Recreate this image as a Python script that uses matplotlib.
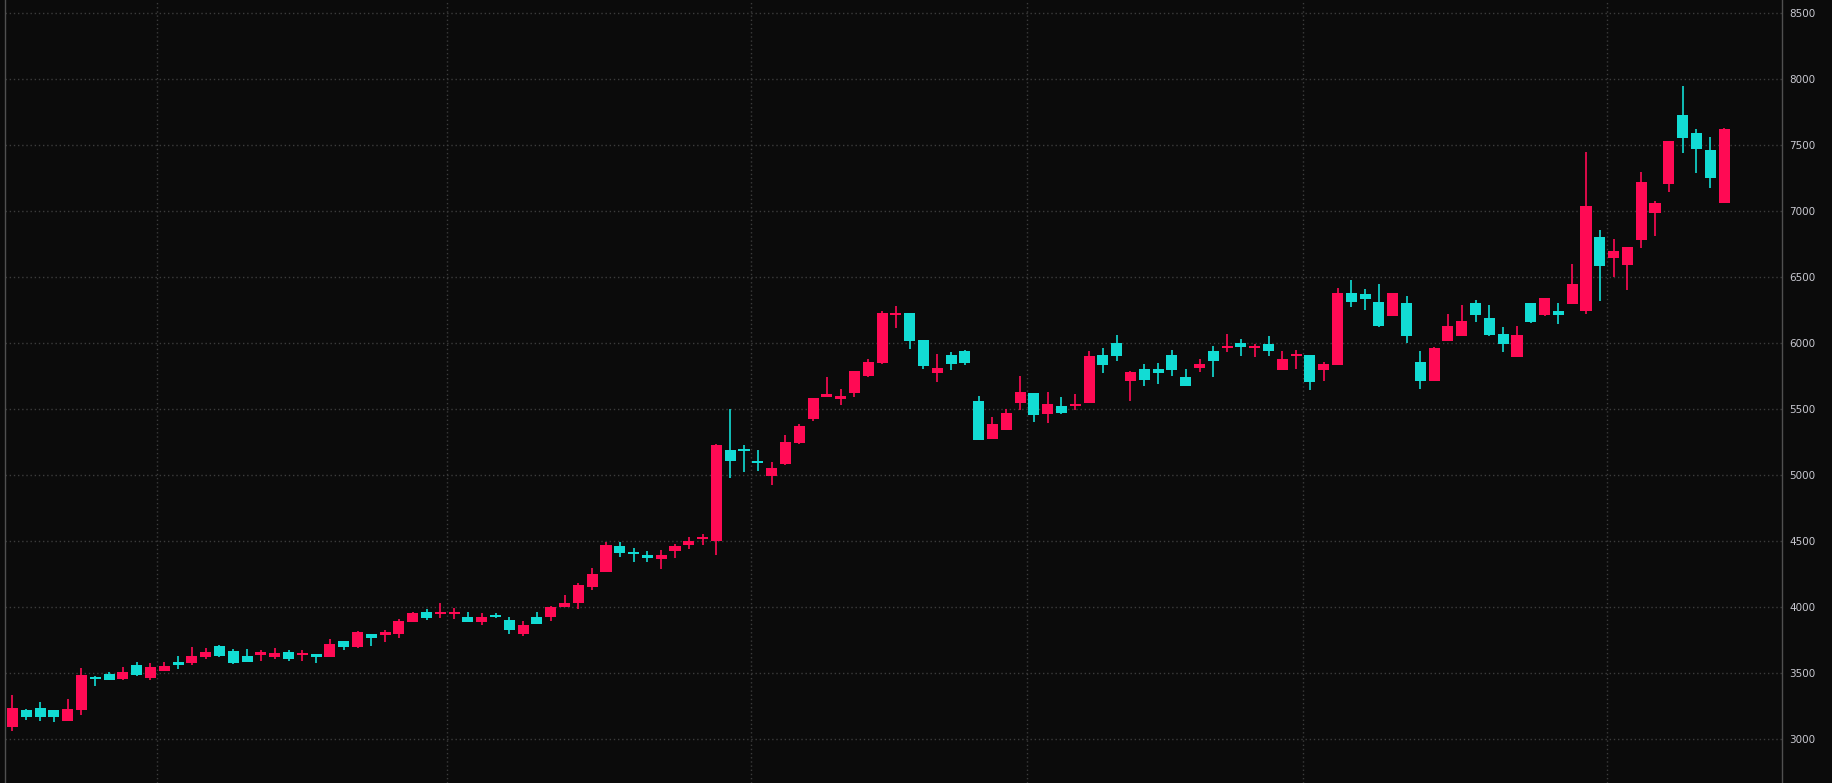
import numpy as np
import matplotlib
matplotlib.use("Agg")
import matplotlib.pyplot as plt

# daily OHLC
opens = [3096, 3222, 3237, 3222, 3141, 3225, 3472, 3495, 3460, 3563,
         3467, 3520, 3586, 3581, 3624, 3707, 3669, 3631, 3641, 3624,
         3662, 3639, 3646, 3624, 3745, 3700, 3798, 3790, 3798, 3889,
         3965, 3952, 3950, 3927, 3889, 3942, 3904, 3798, 3927, 3927,
         4003, 4033, 4154, 4268, 4465, 4419, 4397, 4366, 4427, 4472,
         4518, 4503, 5192, 5200, 5104, 4998, 5086, 5245, 5427, 5593,
         5578, 5624, 5753, 5851, 6215, 6230, 6025, 5775, 5912, 5942,
         5563, 5275, 5343, 5548, 5624, 5465, 5525, 5525, 5548, 5912,
         6003, 5715, 5806, 5806, 5912, 5745, 5813, 5942, 5965, 6003,
         5965, 5995, 5798, 5907, 5912, 5798, 5836, 6381, 6374, 6313,
         6210, 6306, 5859, 5717, 6020, 6058, 6306, 6192, 6071, 5899,
         6306, 6217, 6245, 6301, 6248, 6806, 6649, 6596, 6785, 6990,
         7210, 7730, 7593, 7465, 7066]
highs = [3336, 3232, 3283, 3222, 3306, 3540, 3480, 3510, 3548, 3586,
         3578, 3586, 3631, 3700, 3692, 3715, 3684, 3684, 3677, 3692,
         3677, 3677, 3646, 3760, 3745, 3821, 3798, 3828, 3912, 3965,
         3987, 4033, 3995, 3965, 3957, 3957, 3927, 3897, 3965, 4010,
         4094, 4184, 4298, 4495, 4495, 4450, 4427, 4434, 4480, 4533,
         4556, 5235, 5503, 5230, 5192, 5101, 5306, 5389, 5586, 5745,
         5654, 5790, 5881, 6245, 6283, 6230, 6025, 5919, 5934, 5949,
         5601, 5442, 5503, 5753, 5624, 5631, 5594, 5616, 5942, 5965,
         6063, 5790, 5844, 5851, 5950, 5806, 5881, 5980, 6071, 6033,
         5995, 6056, 5942, 5950, 5912, 5859, 6419, 6480, 6412, 6450,
         6385, 6359, 5942, 5972, 6222, 6291, 6328, 6291, 6124, 6131,
         6306, 6344, 6306, 6601, 7450, 6859, 6791, 6730, 7298, 7078,
         7533, 7950, 7624, 7563, 7631]
lows = [3063, 3149, 3141, 3134, 3141, 3187, 3407, 3452, 3452, 3482,
        3452, 3518, 3535, 3566, 3609, 3624, 3573, 3588, 3593, 3609,
        3596, 3593, 3578, 3624, 3677, 3692, 3707, 3738, 3770, 3889,
        3904, 3919, 3912, 3889, 3866, 3919, 3798, 3783, 3874, 3897,
        4003, 3987, 4131, 4268, 4381, 4343, 4343, 4290, 4374, 4442,
        4472, 4397, 4982, 5028, 5035, 4929, 5078, 5237, 5412, 5593,
        5533, 5593, 5745, 5843, 6116, 5957, 5806, 5707, 5798, 5836,
        5268, 5275, 5343, 5495, 5404, 5397, 5465, 5495, 5548, 5775,
        5866, 5563, 5677, 5692, 5753, 5677, 5783, 5745, 5934, 5904,
        5896, 5904, 5798, 5806, 5647, 5715, 5836, 6275, 6253, 6124,
        6205, 6005, 5657, 5717, 6020, 6058, 6164, 6058, 5937, 5899,
        6157, 6210, 6149, 6301, 6225, 6323, 6503, 6407, 6725, 6816,
        7149, 7445, 7293, 7179, 7066]
closes = [3237, 3172, 3172, 3172, 3230, 3487, 3460, 3452, 3510, 3490,
          3548, 3556, 3566, 3631, 3662, 3631, 3581, 3588, 3662, 3654,
          3609, 3646, 3624, 3722, 3700, 3813, 3770, 3813, 3897, 3957,
          3919, 3957, 3965, 3889, 3927, 3927, 3828, 3866, 3874, 4003,
          4033, 4169, 4253, 4472, 4412, 4404, 4374, 4397, 4465, 4503,
          4525, 5230, 5111, 5184, 5094, 5056, 5253, 5374, 5586, 5616,
          5601, 5790, 5859, 6230, 6230, 6018, 5828, 5813, 5843, 5851,
          5268, 5389, 5472, 5631, 5457, 5540, 5472, 5540, 5904, 5836,
          5904, 5783, 5722, 5775, 5798, 5677, 5843, 5866, 5980, 5972,
          5980, 5942, 5881, 5912, 5707, 5843, 6381, 6313, 6336, 6131,
          6381, 6058, 5717, 5965, 6131, 6169, 6217, 6066, 5998, 6063,
          6164, 6344, 6217, 6450, 7041, 6588, 6700, 6730, 7222, 7063,
          7533, 7558, 7475, 7255, 7624]

y_ticks = [3000, 3500, 4000, 4500, 5000, 5500, 6000, 6500, 7000, 7500, 8000, 8500]
# month boundaries sit between candles
month_starts = [10.5, 31.5, 53.5, 73.5, 93.5, 115.5]

bg = '#0b0b0b'
up_color = '#ff0a54'
down_color = '#12dcd4'
grid_color = '#3c3c3c'

o = np.array(opens, dtype=float)
h = np.array(highs, dtype=float)
l = np.array(lows, dtype=float)
c = np.array(closes, dtype=float)
x = np.arange(len(o))
up = c >= o
colors = np.where(up, up_color, down_color)

fig = plt.figure(figsize=(18.32, 7.83), dpi=100, facecolor=bg)
ax = fig.add_axes([5 / 1832, 0, 1777 / 1832, 1])
ax.set_facecolor(bg)

# grid
for v in y_ticks:
    ax.axhline(v, color=grid_color, lw=1, ls=(0, (1, 2)), zorder=0)
for m in month_starts:
    ax.axvline(m, color=grid_color, lw=1, ls=(0, (1, 2)), zorder=0)

# candles
ax.vlines(x, l, h, colors=colors, lw=1.2, zorder=2)
bottom = np.minimum(o, c)
height = np.maximum(np.abs(c - o), 15)
ax.bar(x, height, bottom=bottom, width=0.8, color=colors, linewidth=0, zorder=3)

ax.set_xlim(-0.54, 128.2)
ax.set_ylim(2670, 8602)

ax.yaxis.tick_right()
ax.set_yticks(y_ticks)
ax.set_yticklabels([str(v) for v in y_ticks])
ax.tick_params(axis='y', length=0, pad=5, labelsize=7.5, labelcolor='#c8c8d0')
ax.set_xticks([])

for side in ['top', 'bottom']:
    ax.spines[side].set_visible(False)
for side in ['left', 'right']:
    ax.spines[side].set_color('#505050')
    ax.spines[side].set_linewidth(1)

fig.savefig('out.png', dpi=100, facecolor=bg)
